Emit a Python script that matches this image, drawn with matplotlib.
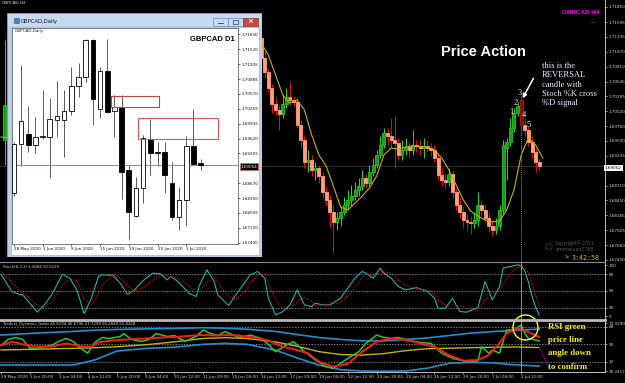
#!/usr/bin/env python3
"""GBPCAD H4 price action screenshot, with the D1 window floating on top."""
import matplotlib
matplotlib.use('Agg')
import matplotlib.pyplot as plt
from matplotlib.patches import Rectangle, Circle
import numpy as np

W, H = 625, 383
SERIF = 'Liberation Serif'
ARIAL = 'Liberation Sans'
AX_TXT = '#d4d4d4'

# ---- H4 candles, bars 72..149 (older bars sit behind the daily window) ----
h4_first = 72
h4_open = [1.71313, 1.70961, 1.70714, 1.70432, 1.70150, 1.70044, 1.69973, 1.70150, 1.70273, 1.70220,
           1.70185, 1.69779, 1.69515, 1.69127, 1.69163, 1.68986, 1.69022, 1.68880, 1.68598, 1.68457,
           1.68246, 1.68070, 1.68140, 1.68246, 1.68369, 1.68457, 1.68528, 1.68634, 1.68704, 1.68845,
           1.68757, 1.68951, 1.69074, 1.69251, 1.69427, 1.69639, 1.69586, 1.69515, 1.69462, 1.69251,
           1.69339, 1.69392, 1.69339, 1.69427, 1.69409, 1.69374, 1.69409, 1.69374, 1.69339, 1.69198,
           1.68898, 1.68810, 1.68775, 1.68916, 1.68598, 1.68369, 1.68246, 1.68105, 1.68070, 1.68052,
           1.68105, 1.68369, 1.68281, 1.68140, 1.67999, 1.67929, 1.67999, 1.68281, 1.69374, 1.69480,
           1.69727, 1.69991, 1.70220, 1.69779, 1.69691, 1.69480, 1.69303, 1.69127]
h4_high = [1.71348, 1.71102, 1.70784, 1.70502, 1.70273, 1.70132, 1.70308, 1.70432, 1.70538, 1.70290,
           1.70273, 1.69868, 1.69603, 1.69339, 1.69251, 1.69127, 1.69074, 1.68951, 1.68704, 1.68546,
           1.68369, 1.68246, 1.68352, 1.68510, 1.68634, 1.68722, 1.68775, 1.68845, 1.68986, 1.68916,
           1.69074, 1.69198, 1.69339, 1.69586, 1.69727, 1.69727, 1.69903, 1.69956, 1.69550, 1.69515,
           1.69550, 1.69480, 1.69691, 1.69515, 1.69515, 1.69550, 1.69515, 1.69462, 1.69427, 1.69286,
           1.69022, 1.68916, 1.69022, 1.68986, 1.68669, 1.68493, 1.68352, 1.68211, 1.68175, 1.68246,
           1.68598, 1.68457, 1.68369, 1.68246, 1.68105, 1.68140, 1.68369, 1.69515, 1.69550, 1.69903,
           1.70079, 1.70185, 1.70290, 1.69903, 1.69762, 1.69586, 1.69374, 1.69198]
h4_low = [1.70890, 1.70608, 1.70361, 1.69991, 1.69956, 1.69691, 1.69903, 1.70079, 1.70132, 1.70114,
          1.69727, 1.69374, 1.69022, 1.68951, 1.68880, 1.68810, 1.68757, 1.68493, 1.68369, 1.67964,
          1.67523, 1.67929, 1.67999, 1.68193, 1.68281, 1.68352, 1.68457, 1.68528, 1.68634, 1.68669,
          1.68704, 1.68880, 1.69022, 1.69198, 1.69374, 1.69427, 1.69374, 1.69022, 1.69163, 1.69163,
          1.69251, 1.69198, 1.69251, 1.69303, 1.69251, 1.69198, 1.69303, 1.69233, 1.69127, 1.68810,
          1.68704, 1.68669, 1.68704, 1.68493, 1.68281, 1.68140, 1.67964, 1.67929, 1.67858, 1.67964,
          1.67999, 1.68175, 1.68070, 1.67893, 1.67823, 1.67858, 1.67929, 1.68211, 1.68810, 1.69409,
          1.69656, 1.69938, 1.69691, 1.69586, 1.69409, 1.69198, 1.68951, 1.68986]
h4_close = [1.70961, 1.70714, 1.70432, 1.70150, 1.70044, 1.69973, 1.70150, 1.70273, 1.70220, 1.70185,
            1.69779, 1.69515, 1.69127, 1.69163, 1.68986, 1.69022, 1.68880, 1.68598, 1.68457, 1.68246,
            1.68070, 1.68140, 1.68246, 1.68369, 1.68457, 1.68528, 1.68634, 1.68704, 1.68845, 1.68757,
            1.68951, 1.69074, 1.69251, 1.69427, 1.69639, 1.69586, 1.69515, 1.69462, 1.69251, 1.69339,
            1.69392, 1.69339, 1.69427, 1.69409, 1.69374, 1.69409, 1.69374, 1.69339, 1.69198, 1.68898,
            1.68810, 1.68775, 1.68916, 1.68598, 1.68369, 1.68246, 1.68105, 1.68070, 1.68052, 1.68105,
            1.68369, 1.68281, 1.68140, 1.67999, 1.67929, 1.67999, 1.68281, 1.69427, 1.69480, 1.69727,
            1.69991, 1.70114, 1.69779, 1.69691, 1.69480, 1.69303, 1.69127, 1.69052]
reversal_bar = 144
h4_last = 1.69052

# one bar peeking out at the left edge of the screen
edge_idx = [1]
edge_open = [1.69515]
edge_high = [1.71278]
edge_low = [1.69074]
edge_close = [1.70132]

# yellow moving average (every 2nd bar, 72..150) plus the bit at the left edge
ma_idx = list(range(72, 152, 2))
ma_val = [1.71225, 1.71013, 1.70661, 1.70308, 1.70167, 1.70220, 1.70044, 1.69603, 1.69251, 1.69057,
          1.68704, 1.68334, 1.68281, 1.68404, 1.68528, 1.68669, 1.68880, 1.69251, 1.69374, 1.69356,
          1.69392, 1.69409, 1.69392, 1.69392, 1.69339, 1.69198, 1.68986, 1.68722, 1.68457, 1.68263,
          1.68175, 1.68105, 1.68070, 1.68087, 1.68281, 1.68634, 1.69251, 1.69550, 1.69427, 1.69198]
ma_edge_idx = [0, 2]
ma_edge_val = [1.69568, 1.69550]

# price scale labels (the one under the current price box is hidden there)
main_ticks = [1.71860, 1.71595, 1.71335, 1.71070, 1.70810, 1.70545, 1.70285, 1.70020, 1.69760,
              1.69500, 1.69235, 1.68710, 1.68450, 1.68185, 1.67925, 1.67660, 1.67400]

h4_date_idx = list(range(0, 152, 8))
h4_date_lbl = ["29 May 2020", "1 Jun 20:00", "3 Jun 04:00", "4 Jun 12:00", "5 Jun 20:00",
               "9 Jun 04:00", "10 Jun 12:00", "11 Jun 20:00", "15 Jun 04:00", "16 Jun 12:00",
               "17 Jun 20:00", "19 Jun 04:00", "22 Jun 12:00", "23 Jun 20:00", "25 Jun 04:00",
               "26 Jun 12:00", "29 Jun 20:00", "1 Jul 04:00", "2 Jul 12:00"]

# wave counts 1..5 and the arrow onto the reversal candle
wave_idx = [141.4, 142.5, 143.7, 144.8, 146.2]
wave_price = [1.70014, 1.70173, 1.70338, 1.69956, 1.69785]
wave_lbl = ['1', '2', '3', '4', '5']
arrow_from = (147.4, 1.70603)
arrow_to = (144.4, 1.70250)

# ---- Stochastic (8,3,3) ----
stoch_idx = [0, 3, 5, 6, 8, 10, 12, 14, 15, 17, 19, 21, 22, 23, 25, 27, 28, 31, 33, 35,
             37, 39, 42, 44, 46, 47, 49, 52, 54, 55, 57, 59, 60, 63, 65, 67, 69, 71, 73, 74,
             76, 78, 80, 82, 84, 86, 87, 89, 91, 94, 96, 98, 100, 101, 103, 105, 106, 108, 110, 112,
             115, 118, 120, 121, 123, 125, 127, 129, 132, 134, 136, 138, 139, 141, 143, 144, 145, 146, 147, 148,
             149]
stoch_k = [80, 49, 44, 43, 28, 12, 25, 43, 55, 80, 73, 52, 31, 9, 37, 76, 79, 78, 64, 44,
           52, 67, 82, 81, 70, 76, 67, 46, 40, 61, 88, 67, 43, 24, 43, 61, 79, 85, 73, 37,
           7, 13, 25, 52, 25, 22, 28, 25, 25, 37, 55, 73, 85, 82, 73, 91, 82, 73, 58, 52,
           56, 49, 37, 19, 19, 37, 13, 12, 20, 67, 34, 58, 91, 94, 97, 95, 86, 66, 40, 21,
           6.6]
stoch_d = [85, 65, 52, 46, 38, 24, 20, 30, 40, 60, 72, 68, 55, 35, 25, 45, 60, 78, 73, 60,
           50, 55, 70, 78, 78, 76, 72, 60, 48, 49, 65, 72, 66, 40, 35, 45, 65, 78, 80, 64,
           35, 18, 16, 32, 38, 32, 25, 25, 26, 30, 42, 58, 74, 80, 80, 82, 84, 82, 70, 60,
           54, 52, 45, 34, 24, 25, 24, 18, 15, 35, 45, 52, 62, 82, 93, 96, 93, 82, 64, 42,
           22.6]

# ---- Traders Dynamic Index ----
tdi_band_idx = [0, 10, 20, 26, 32, 40, 48, 56, 62, 68, 76, 82, 88, 94, 100, 106, 112, 118,
                124, 130, 136, 142, 149]
tdi_upper = [59.5, 61.5, 63.2, 64.5, 65.2, 65.8, 66.3, 67.0, 66.5, 65.5, 63.2, 60.0, 57.0, 55.0,
             53.5, 53.5, 55.0, 56.5, 59.0, 61.5, 63.0, 64.3, 65.6]
tdi_lower = [28.8, 28.8, 28.8, 34.0, 43.0, 45.8, 47.0, 50.0, 51.0, 50.0, 44.0, 36.0, 28.7, 24.0,
             22.6, 22.4, 22.6, 25.5, 30.5, 31.5, 31.0, 29.0, 27.7]
tdi_base = [44.2, 45.0, 45.9, 46.5, 47.5, 49.5, 52.5, 56.0, 56.8, 56.0, 52.5, 48.0, 42.5, 39.5,
            39.0, 40.5, 43.5, 45.5, 46.0, 46.5, 47.0, 47.2, 46.7]
tdi_rsi_idx = [0, 2, 4, 6, 8, 10, 12, 14, 16, 18, 20, 22, 24, 26, 28, 30, 33, 34, 36, 39,
               41, 43, 46, 48, 51, 54, 56, 58, 60, 62, 64, 66, 69, 72, 74, 76, 79, 81, 84, 87,
               90, 92, 96, 99, 101, 104, 106, 108, 110, 113, 116, 119, 122, 125, 129, 132, 133, 135, 136, 138,
               140, 142, 144, 145, 146, 149]
tdi_rsi = [49, 55, 57, 55, 46, 46, 47.5, 49, 53, 56, 53, 46, 41, 52, 57, 56, 58, 61, 55, 53,
           55, 61, 58, 59, 53, 58, 64.7, 61, 59, 63, 60, 57, 59.5, 56, 50, 42.4, 49.3, 52.7, 42.5, 34,
           27, 25.4, 35.6, 42.5, 51, 59.5, 57, 56, 57, 54, 52, 51, 41, 35.6, 32.2, 33, 47.5, 41, 44, 41,
           64.7, 64.7, 69.8, 61.3, 56, 53.5]
tdi_sig_idx = [0, 3, 6, 9, 14, 18, 22, 25, 27, 31, 35, 40, 45, 50, 55, 60, 62, 66, 70, 74,
               78, 82, 85, 88, 92, 96, 100, 104, 108, 111, 114, 117, 120, 124, 128, 132, 135, 138, 140, 143,
               145, 147, 149]
tdi_sig = [49, 52.7, 50, 48, 47.6, 51, 48, 47.6, 52, 54, 55, 56, 57, 58, 59.5, 59, 59.5, 59, 57, 54,
           47.6, 44, 40.7, 32.2, 27, 30, 42.4, 52.7, 56, 55, 53, 50, 47.5, 39, 33.2, 33.9, 39, 51, 61.3, 66.4,
           64, 61, 57.5]
tdi_dash_idx = [149, 152]
tdi_dash_val = [47.5, 23.6]

# ---- D1 window ----
d_open = [1.68459, 1.69503, 1.69716, 1.69482, 1.69652, 1.69652, 1.70014, 1.70014, 1.70206, 1.70739,
          1.70931, 1.71719, 1.70249, 1.71058, 1.70206, 1.70291, 1.68949, 1.67969, 1.68566, 1.69610,
          1.69333, 1.69333, 1.68672, 1.67948, 1.68310, 1.69461, 1.69100]
d_high = [1.69546, 1.71186, 1.70313, 1.70078, 1.70654, 1.70483, 1.70845, 1.70654, 1.71144, 1.71229,
          1.71740, 1.71740, 1.71144, 1.71740, 1.70547, 1.70547, 1.69056, 1.68800, 1.69695, 1.70036,
          1.69546, 1.69546, 1.69120, 1.68587, 1.69674, 1.70249, 1.69184]
d_low = [1.68400, 1.69034, 1.69333, 1.69311, 1.69610, 1.68779, 1.69652, 1.69226, 1.70121, 1.70504,
         1.70824, 1.69908, 1.70057, 1.70164, 1.69652, 1.68331, 1.67479, 1.67948, 1.68246, 1.68843,
         1.69034, 1.68459, 1.67884, 1.67671, 1.67756, 1.69056, 1.68949]
d_close = [1.69503, 1.69993, 1.69482, 1.69652, 1.69674, 1.70036, 1.70100, 1.70206, 1.70739, 1.70931,
           1.71719, 1.70462, 1.71058, 1.70185, 1.70291, 1.68907, 1.68054, 1.68566, 1.69631, 1.69311,
           1.69311, 1.68843, 1.67948, 1.68310, 1.69461, 1.69077, 1.69054]
d_last = 1.69054
d_ticks = [1.71840, 1.71520, 1.71205, 1.70885, 1.70570, 1.70255, 1.69935, 1.69620, 1.69305,
           1.68670, 1.68350, 1.68035, 1.67720, 1.67400]
d_date_idx = [0, 4, 8, 12, 16, 20, 24]
d_date_lbl = ["28 May 2020", "3 Jun 2020", "9 Jun 2020", "15 Jun 2020", "19 Jun 2020",
              "25 Jun 2020", "1 Jul 2020"]
# supply zones drawn on the daily chart: (bar from, bar to, low, high)
d_zones = [(13.5, 20.25, 1.70285, 1.70532, '#c04444'),
           (17.33, 28.47, 1.69610, 1.70051, '#dd5555')]


def box(x0, y0, x1, y1):
    return [x0 / W, 1 - y1 / H, (x1 - x0) / W, (y1 - y0) / H]


def draw_candles(ax, idx, o, h, l, c, width, up_face, dn_face, up_edge, dn_edge,
                 up_wick, dn_wick, lw=0.6, min_h=0.0):
    idx, o, h, l, c = map(np.asarray, (idx, o, h, l, c))
    up = c >= o
    for m, face, edge, wick in ((up, up_face, up_edge, up_wick),
                                (~up, dn_face, dn_edge, dn_wick)):
        if not m.any():
            continue
        ax.vlines(idx[m], l[m], h[m], color=wick, lw=lw, zorder=2)
        bottom = np.minimum(o, c)[m]
        height = np.maximum(np.abs(c - o)[m], min_h)
        ax.bar(idx[m], height, width, bottom=bottom, facecolor=face,
               edgecolor=edge, linewidth=lw, zorder=3)


XLIM = (-0.277, 167.2)


def style_panel(ax):
    ax.set_facecolor('black')
    ax.set_xlim(*XLIM)
    for s in ('top', 'left', 'bottom'):
        ax.spines[s].set_visible(False)
    ax.spines['right'].set_color('#bdbdbd')
    ax.spines['right'].set_linewidth(0.7)
    ax.yaxis.tick_right()
    ax.tick_params(axis='y', length=1.5, width=0.5, pad=1.2, labelsize=3, colors=AX_TXT)
    ax.set_xticks([])


fig = plt.figure(figsize=(W / 100, H / 100), dpi=100, facecolor='black')

# ---- main H4 chart ----
ax = fig.add_axes(box(0, 0, 605, 262), zorder=1)
style_panel(ax)
ax.set_ylim(1.673645, 1.71983)
ax.set_yticks(main_ticks)
ax.set_yticklabels([f'{v:.5f}' for v in main_ticks])
ax.axhline(h4_last, color='#383838', lw=0.6, zorder=1)

h4_idx = np.arange(h4_first, h4_first + len(h4_open))
draw_candles(ax, h4_idx, h4_open, h4_high, h4_low, h4_close, 0.82,
             '#1c9c1c', '#ffa07a', '#22b522', '#ff9070', '#22dd22', '#e01010', lw=0.7)
draw_candles(ax, edge_idx, edge_open, edge_high, edge_low, edge_close, 1.0,
             '#1c9c1c', '#ffa07a', '#22b522', '#ff9070', '#22dd22', '#e01010', lw=0.7)
r = reversal_bar - h4_first
ax.vlines(reversal_bar, h4_low[r], h4_high[r], color='#e01010', lw=0.7, zorder=4)
ax.bar(reversal_bar, h4_open[r] - h4_close[r], 0.82, bottom=h4_close[r],
       facecolor='#8b0c0c', edgecolor='#a01010', lw=0.7, zorder=4)

ax.plot(ma_idx, ma_val, color='#c8b000', lw=0.8, zorder=5)
ax.plot(ma_edge_idx, ma_edge_val, color='#c8b000', lw=0.8, zorder=5)
ax.vlines(reversal_bar, 1.673645, h4_low[r], color='#a08c00', lw=0.7,
          linestyles=(0, (1, 1)), zorder=5)

for xi, yi, t in zip(wave_idx, wave_price, wave_lbl):
    ax.text(xi, yi, t, color='#eef3ff', fontsize=6, family=SERIF,
            ha='center', va='center', zorder=6)
ax.annotate('', xy=arrow_to, xytext=arrow_from,
            arrowprops=dict(arrowstyle='-|>', color='white', lw=1.1,
                            mutation_scale=6, shrinkA=0, shrinkB=0), zorder=6)

# ---- Stochastic panel ----
axs = fig.add_axes(box(0, 262, 605, 319), zorder=1)
style_panel(axs)
axs.set_ylim(-0.36, 102)
for lv in (80, 50, 20):
    axs.axhline(lv, color='#b0b0b0', lw=0.5, ls=(0, (2, 2)))
axs.plot(stoch_idx, stoch_k, color='#20b2aa', lw=0.8)
axs.plot(stoch_idx, stoch_d, color='#d41414', lw=0.8, ls=(0, (1, 1.2)))
axs.axvline(reversal_bar, color='#c8b400', lw=0.6)
axs.set_yticks([96.6, 80, 50, 20, 5])
axs.set_yticklabels(['100', '80', '50', '20', '0'])

# ---- TDI panel ----
axt = fig.add_axes(box(0, 321, 605, 372), zorder=1)
style_panel(axt)
axt.spines['bottom'].set_visible(True)
axt.spines['bottom'].set_color('#bdbdbd')
axt.spines['bottom'].set_linewidth(0.7)
axt.set_ylim(21.6, 73.9)
for lv in (68, 50, 32):
    axt.axhline(lv, color='#b0b0b0', lw=0.5, ls=(0, (2, 2)))
axt.plot(tdi_band_idx, tdi_upper, color='#1e8fd0', lw=1.2)
axt.plot(tdi_band_idx, tdi_lower, color='#1e8fd0', lw=1.2)
axt.plot(tdi_band_idx, tdi_base, color='#c8b400', lw=1.0)
axt.plot(tdi_rsi_idx, tdi_rsi, color='#22cc22', lw=1.1)
axt.plot(tdi_sig_idx, tdi_sig, color='#ff1a1a', lw=1.4)
axt.plot(tdi_dash_idx, tdi_dash_val, color='#b000b0', lw=0.9, ls=(0, (1, 1)))
axt.axvline(reversal_bar, color='#c8b400', lw=0.6)
axt.set_yticks([71.8, 68, 50, 32, 22.6])
axt.set_yticklabels(['73.3290', '68', '50', '32', '30.2417'])
axt.set_xticks(h4_date_idx)
axt.set_xticklabels(h4_date_lbl, ha='left')
axt.tick_params(axis='x', length=1.5, width=0.5, pad=0.8, labelsize=3, colors=AX_TXT)

# ---- floating D1 window ----
axw = fig.add_axes(box(7, 13, 262, 257), zorder=3)
axw.set_xlim(7, 262)
axw.set_ylim(257, 13)
axw.axis('off')
axw.add_patch(Rectangle((7, 13), 255, 244, facecolor='#bcd2ec', edgecolor='#7b98bd', lw=0.8))
axw.add_patch(Rectangle((8, 14), 253, 12, facecolor='#c6daf1', edgecolor='none'))
axw.add_patch(Rectangle((11, 27), 248, 228, facecolor='white', edgecolor='#9fb5d0', lw=0.5))
axw.add_patch(Rectangle((13.5, 18), 5, 5, facecolor='#4f7fc0', edgecolor='#2f5f9f', lw=0.4))
axw.text(21, 21, 'GBPCAD,Daily', fontsize=3.8, color='#101010', va='center', ha='left')
for bx, fc, ec in ((213, '#c9d9ee', '#6f8fb5'), (228, '#c9d9ee', '#6f8fb5'), (243, '#c84b4b', '#8f3030')):
    axw.add_patch(Rectangle((bx, 17.5), 14.5, 8, facecolor=fc, edgecolor=ec, lw=0.5))
axw.plot([217.5, 222.5], [22.5, 22.5], color='#304060', lw=0.6)
axw.add_patch(Rectangle((232.5, 19.5), 5, 4, facecolor='none', edgecolor='#304060', lw=0.5))
axw.text(250.2, 21.3, '×', fontsize=5, color='white', ha='center', va='center', fontweight='bold')

axd = fig.add_axes(box(12, 28, 238, 244), zorder=4)
axd.set_facecolor('white')
axd.set_xlim(-0.265, 31.21)
axd.set_ylim(1.67373, 1.71974)
for s in axd.spines.values():
    s.set_color('#6a6a6a')
    s.set_linewidth(0.6)
axd.yaxis.tick_right()
axd.set_yticks(d_ticks)
axd.set_yticklabels([f'{v:.5f}' for v in d_ticks])
axd.set_xticks(d_date_idx)
axd.set_xticklabels(d_date_lbl, ha='left')
axd.tick_params(axis='both', length=1.5, width=0.5, pad=1, labelsize=3, colors='#111111')
axd.axhline(d_last, color='#f0704a', lw=0.8, zorder=2.5)
draw_candles(axd, np.arange(len(d_open)), d_open, d_high, d_low, d_close, 0.65,
             'white', 'black', 'black', 'black', '#404040', '#404040', lw=0.6, min_h=0.00005)
for x0, x1, lo, hi, col in d_zones:
    axd.add_patch(Rectangle((x0, lo), x1 - x0, hi - lo, fill=False, edgecolor=col, lw=0.8, zorder=5))
axd.text(0.01, 0.995, 'GBPCAD,Daily', transform=axd.transAxes, fontsize=3, color='#202020',
         ha='left', va='top')
axd.text(0.887, 0.949, 'GBPCAD D1', transform=axd.transAxes, fontsize=5.5, family=ARIAL,
         fontweight='bold', color='black', ha='center', va='center')
axd.text(0.965, 0.903, '.....', transform=axd.transAxes, fontsize=3, color='#808080',
         ha='center', va='center')

# ---- overlay: separators, captions and markup in screen pixels ----
axo = fig.add_axes([0, 0, 1, 1], zorder=10)
axo.set_xlim(0, W)
axo.set_ylim(H, 0)
axo.axis('off')
axo.plot([0, 605], [262, 262], color='#8c8c8c', lw=0.8)
axo.plot([0, 605], [319.8, 319.8], color='#b8b8b8', lw=2.0)

axo.text(2, 3.5, 'GBPCAD,H4', fontsize=3, color='#e0e0e0', ha='left', va='center')
axo.text(581, 12.5, 'GBPCAD H4', fontsize=4.6, family=ARIAL, fontweight='bold',
         color='#ff00ff', ha='center', va='center')
axo.text(594, 21.5, '.....', fontsize=3.5, color='#a89a00', ha='center', va='center')
axo.text(483, 52.5, 'Price Action', fontsize=10.5, family=ARIAL, fontweight='bold',
         color='white', ha='center', va='center')

note_lines = ['this is the', 'REVERSAL', 'candle with', 'Stoch %K cross', '%D signal']
for k, t in enumerate(note_lines):
    axo.text(541.5, 66 + 9.3 * k, t, fontsize=6.1, family=SERIF, color='#eef3ff',
             ha='left', va='center')

rsi_lines = ['RSI green', 'price line', 'angle down', 'to confirm']
for k, t in enumerate(rsi_lines):
    axo.text(548, 326.7 + 13.33 * k, t, fontsize=6.3, family=SERIF, fontweight='bold',
             color='#ffef00', ha='left', va='center')
axo.add_patch(Circle((525.5, 327.5), 12.5, fill=False, edgecolor='#ffff00', lw=1.0))

axo.add_patch(Circle((549, 246.5), 3.2, fill=False, edgecolor='#4a4a4a', lw=0.5))
axo.text(575, 243.5, 'Copyright©2011', fontsize=3.4, color='#5a5a5a', ha='center', va='center')
axo.text(575, 249.5, 'emmasuan1768', fontsize=3.4, color='#5a5a5a', ha='center', va='center')
axo.text(567, 257.5, '>', fontsize=4.8, family='DejaVu Sans Mono', color='#cfc400',
         ha='center', va='center')
axo.text(586, 257.5, '3:42:58', fontsize=4.8, family='DejaVu Sans Mono', color='#cfc400',
         ha='center', va='center')

axo.text(3, 267.5, 'Stoch(8,3,3) 6.5684 22.6225', fontsize=2.8, color='#cfcfcf',
         ha='left', va='center')
axo.text(3, 324.5, 'Traders_Dynamic_Index 65.6194 46.6796 27.7298 56.2840 55.8268',
         fontsize=2.8, color='#cfcfcf', ha='left', va='center')

axo.text(613.5, 168.2, f'{h4_last:.5f}', fontsize=3, color='black', ha='center', va='center',
         bbox=dict(boxstyle='square,pad=0.25', facecolor='white', edgecolor='none'))
axo.text(249, 166.5, f'{d_last:.5f}', fontsize=3, color='white', ha='center', va='center',
         bbox=dict(boxstyle='square,pad=0.25', facecolor='black', edgecolor='#f0704a', lw=0.4))

fig.savefig('out.png', dpi=100, facecolor='black')
plt.close(fig)
print("out.png done")
